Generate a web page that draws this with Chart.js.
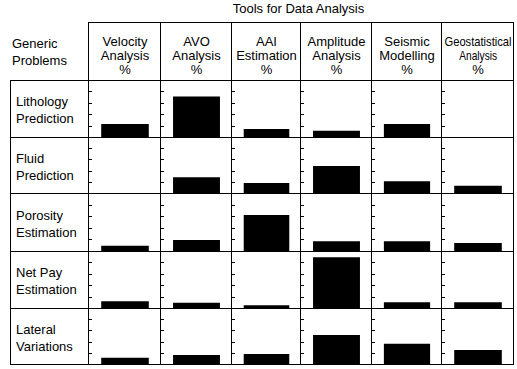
<!DOCTYPE html>
<html>
<head>
<meta charset="utf-8">
<script src="https://cdn.jsdelivr.net/npm/chart.js@4/dist/chart.umd.min.js"></script>
<style>
  html, body { margin: 0; padding: 0; background: #fff; }
  #wrap { position: relative; width: 517px; height: 369px; overflow: hidden; font-family: "Liberation Sans", Arial, sans-serif; font-size: 13px; color: #000; }
  .ln { position: absolute; background: #000; }
  .txt { position: absolute; white-space: nowrap; }
  .txt span { display: inline-block; }
  canvas { position: absolute; }
</style>
</head>
<body>
<div id="wrap"></div>
<script>
// ---- data ----
const title = "Tools for Data Analysis";
const cornerLabel = ["Generic", "Problems"];
const tools = [
  ["Velocity", "Analysis", "%"],
  ["AVO", "Analysis", "%"],
  ["AAI", "Estimation", "%"],
  ["Amplitude", "Analysis", "%"],
  ["Seismic", "Modelling", "%"],
  ["Geostatistical", "Analysis", "%"]
];
const problems = [
  ["Lithology", "Prediction"],
  ["Fluid", "Prediction"],
  ["Porosity", "Estimation"],
  ["Net Pay", "Estimation"],
  ["Lateral", "Variations"]
];
// values (%) per tool, one per problem (top to bottom)
const velocityAnalysis       = [23, 0, 9, 12, 11];
const avoAnalysis            = [71, 28, 19, 9, 16];
const aaiEstimation          = [14, 18, 62, 5, 18];
const amplitudeAnalysis      = [11, 48, 17, 89, 52];
const seismicModelling       = [23, 21, 17, 10, 36];
const geostatisticalAnalysis = [0, 13, 14, 10, 25];
const tickValues = [20, 40, 60, 80];
const axisMax = 100;

const series = [velocityAnalysis, avoAnalysis, aaiEstimation, amplitudeAnalysis, seismicModelling, geostatisticalAnalysis];

// ---- layout ----
const colX = [88, 160, 231, 300, 371, 441, 513];
const rowY = [80, 137, 193, 251, 308, 364];
const headTop = 22;
const labelLeft = 10;
const wrap = document.getElementById('wrap');

function line(x, y, w, h) {
  const d = document.createElement('div');
  d.className = 'ln';
  d.style.left = x + 'px'; d.style.top = y + 'px';
  d.style.width = w + 'px'; d.style.height = h + 'px';
  wrap.appendChild(d);
}
function text(str, x, y, align, scaleX) {
  const d = document.createElement('div');
  d.className = 'txt';
  const s = document.createElement('span');
  s.textContent = str;
  if (scaleX) { s.style.transform = 'scaleX(' + scaleX + ')'; s.style.transformOrigin = 'center'; }
  d.appendChild(s);
  d.style.top = (y - 8) + 'px';
  d.style.lineHeight = '16px';
  if (align === 'center') {
    d.style.left = (x - 100) + 'px'; d.style.width = '200px'; d.style.textAlign = 'center';
  } else {
    d.style.left = x + 'px';
  }
  wrap.appendChild(d);
}

// title
text(title, (colX[0] + colX[6]) / 2 - 2, 8.5, 'center');
// corner label
text(cornerLabel[0], 12, 44, 'left');
text(cornerLabel[1], 12, 61, 'left');
// headers
tools.forEach((lines, c) => {
  const cx = (colX[c] + colX[c + 1]) / 2 + 1;
  const narrow = lines[0].length > 12;
  lines.forEach((s, i) => {
    const sc = narrow ? (i === 0 ? 0.86 : (i === 1 ? 0.78 : null)) : null;
    text(s, cx, 41.5 + i * 14, 'center', sc);
  });
});
// row labels
problems.forEach((lines, r) => {
  const cy = (rowY[r] + rowY[r + 1]) / 2 + 2;
  text(lines[0], 16, cy - 8.5, 'left');
  text(lines[1], 16, cy + 8.5, 'left');
});

// tick plugin: short inward ticks on each cell's left edge
const tickPlugin = {
  id: 'innerTicks',
  afterDraw(chart) {
    const ctx = chart.ctx;
    const ys = chart.scales.y;
    ctx.save();
    ctx.strokeStyle = '#000';
    ctx.lineWidth = 1;
    ctx.beginPath();
    tickValues.forEach(v => {
      const y = Math.round(ys.getPixelForValue(v)) + 0.5;
      ctx.moveTo(0, y);
      ctx.lineTo(4, y);
    });
    ctx.stroke();
    ctx.restore();
  }
};

// charts
for (let r = 0; r < problems.length; r++) {
  for (let c = 0; c < tools.length; c++) {
    const cv = document.createElement('canvas');
    const w = colX[c + 1] - colX[c];
    const h = rowY[r + 1] - rowY[r];
    cv.width = w; cv.height = h;
    cv.style.left = colX[c] + 'px';
    cv.style.top = rowY[r] + 'px';
    cv.style.width = w + 'px'; cv.style.height = h + 'px';
    wrap.appendChild(cv);
    new Chart(cv, {
      type: 'bar',
      data: {
        labels: [problems[r].join(' ')],
        datasets: [{
          label: tools[c].slice(0, 2).join(' '),
          data: [series[c][r]],
          backgroundColor: '#000',
          borderWidth: 0,
          barPercentage: 0.68,
          categoryPercentage: 1
        }]
      },
      options: {
        responsive: false,
        animation: false,
        events: [],
        devicePixelRatio: 1,
        layout: { padding: { left: 2, right: 0, top: 0, bottom: 0 } },
        plugins: { legend: { display: false }, tooltip: { enabled: false } },
        scales: {
          x: { display: false },
          y: { display: false, min: 0, max: axisMax }
        }
      },
      plugins: [tickPlugin]
    });
  }
}

// grid lines
line(colX[0], headTop, colX[6] - colX[0] + 1, 1);
rowY.forEach(y => line(labelLeft, y, colX[6] - labelLeft + 1, 1));
line(labelLeft, rowY[0], 1, rowY[5] - rowY[0] + 1);
colX.forEach(x => line(x, headTop, 1, rowY[5] - headTop + 1));
</script>
</body>
</html>
